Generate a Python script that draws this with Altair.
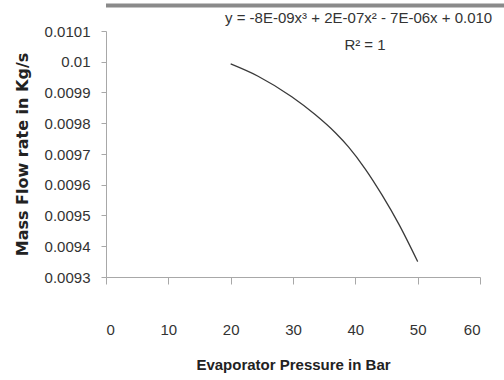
import altair as alt
import pandas as pd

pressure = [20, 24.4, 29.8, 33.5, 36.8, 38.9, 41.6, 44.3, 47, 50]
mass_flow = [0.009993, 0.009953, 0.009886, 0.009829, 0.009769, 0.009723,
             0.009651, 0.009566, 0.009471, 0.009350]
x_ticks = [0, 10, 20, 30, 40, 50, 60]
y_ticks = [0.0093, 0.0094, 0.0095, 0.0096, 0.0097, 0.0098, 0.0099, 0.0100, 0.0101]
equation = "y = -8E-09x³ + 2E-07x² - 7E-06x + 0.010"
r2 = "R² = 1"

df = pd.DataFrame({"p": pressure, "m": mass_flow})
FONT = "Liberation Sans"

line = alt.Chart(df).mark_line(color="#3a3a3a", strokeWidth=1.3, interpolate="monotone").encode(
    x=alt.X("p:Q", scale=alt.Scale(domain=[0, 60], nice=False),
            axis=alt.Axis(values=x_ticks, title="Evaporator Pressure in Bar", grid=False,
                          tickSize=7, labelPadding=38, titlePadding=20, format="d",
                          titleFontSize=15)),
    y=alt.Y("m:Q", scale=alt.Scale(domain=[0.0093, 0.0101], nice=False, zero=False),
            axis=alt.Axis(values=y_ticks, title="Mass Flow rate in Kg/s", grid=False,
                          tickSize=5, labelPadding=11, format=".4~f", titlePadding=14,
                          titleFont="DejaVu Sans", titleFontSize=16)),
)

eq = alt.Chart(pd.DataFrame({"t": [equation]})).mark_text(
    align="left", baseline="middle", fontSize=15, font=FONT, color="#333"
).encode(x=alt.value(119), y=alt.value(-13), text="t:N")

r2t = alt.Chart(pd.DataFrame({"t": [r2]})).mark_text(
    align="center", baseline="middle", fontSize=15, font=FONT, color="#333"
).encode(x=alt.value(259), y=alt.value(14), text="t:N")

bar = alt.Chart(pd.DataFrame({"a": [0]})).mark_rule(color="#8a8a8a", strokeWidth=4).encode(
    x=alt.value(0), x2=alt.value(398), y=alt.value(-25.5)
)

chart = alt.layer(line, eq, r2t, bar).properties(
    width=374, height=246,
    autosize=alt.AutoSizeParams(type="none"),
    padding={"left": 106, "top": 31, "right": 24, "bottom": 103},
    background="white",
).configure_view(stroke=None).configure_axis(
    domainColor="#a8a8a8", tickColor="#a8a8a8", labelColor="#333", titleColor="#222",
    labelFont=FONT, titleFont=FONT, labelFontSize=15, titleFontSize=15,
    titleFontWeight="bold", labelFontWeight="normal"
)

chart.save("out.html", embed_options={"renderer": "svg", "actions": False})
